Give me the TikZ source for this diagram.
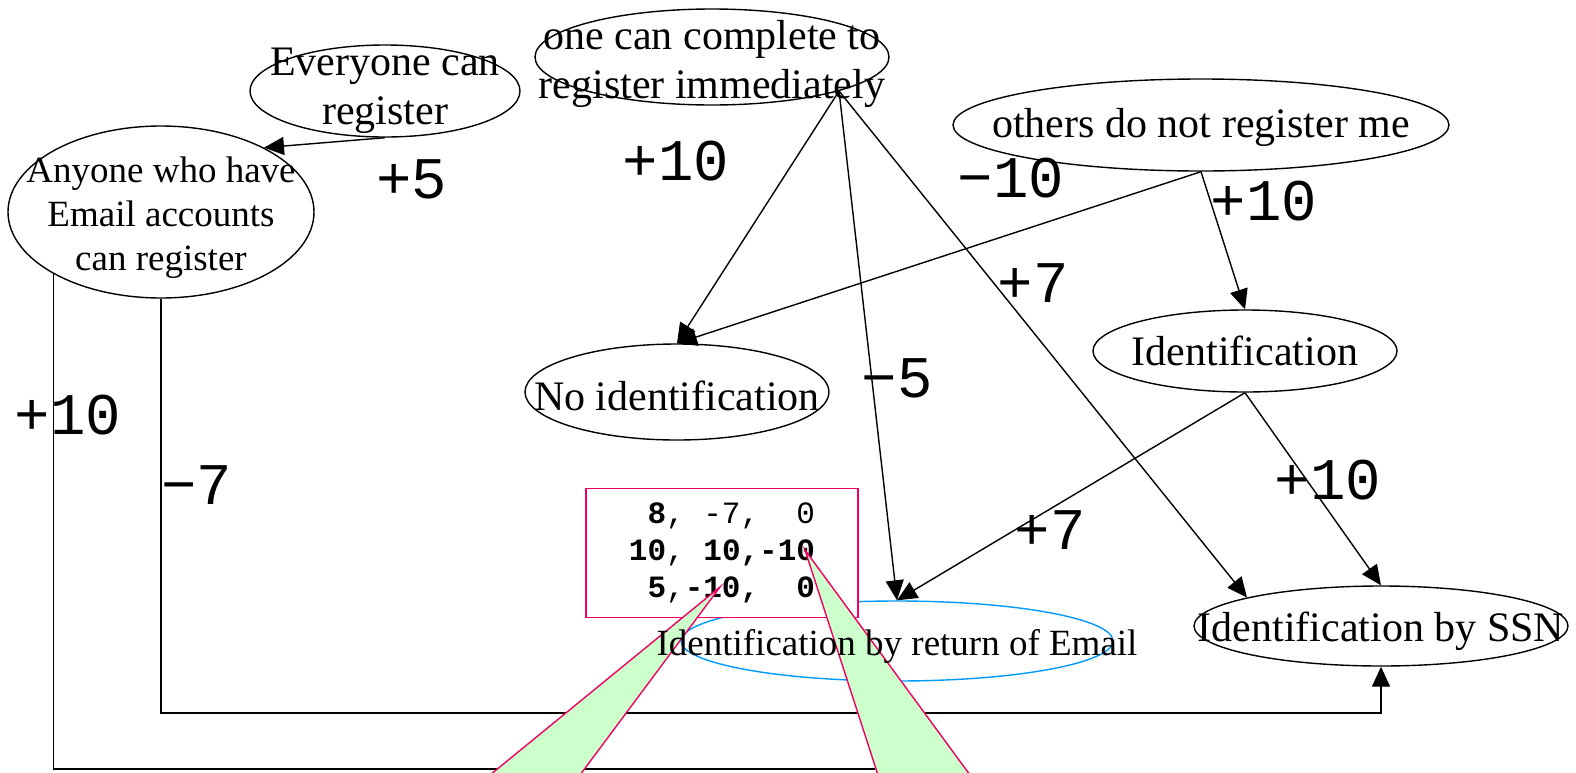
\documentclass[tikz,border=0pt]{standalone}
\usepackage{fontspec}
\setmainfont{Liberation Serif}
\newfontfamily\labelmono{Liberation Mono}
\usepackage{xcolor}
\usepackage{tikz}
\usetikzlibrary{shapes.geometric, arrows.meta}
\definecolor{notepink}{RGB}{240,0,100}
\definecolor{notegreen}{RGB}{204,255,204}
\definecolor{emailblue}{RGB}{0,153,255}

\begin{document}
\begin{tikzpicture}[
  x=0.5pt, y=-0.5pt,
  oval/.style 2 args={ellipse, draw, line width=0.7pt, inner sep=0pt,
                      minimum width=#1pt, minimum height=#2pt},
  txt/.style={font=\fontsize{21}{24.5}\selectfont, align=center},
  smalltxt/.style={font=\fontsize{18.5}{22}\selectfont, align=center},
  wt/.style={font=\labelmono\fontsize{29.5}{31}\selectfont},
  arr/.style={-{Triangle[length=10pt, width=9pt]}, line width=0.7pt},
  note/.style={draw=notepink, line width=0.7pt}
]
  \useasboundingbox (0,0) rectangle (1576,772);

  % Nodes
  \node[oval={135}{46}, label={[txt]center:Everyone can\\register}] (ev) at (385,91) {};
  \node[oval={177}{48}, label={[txt, yshift=-3.5pt]center:one can complete to\\register immediately}] (imm) at (712,57) {};
  \node[oval={248}{46}, label={[txt, yshift=-1pt]center:others do not register me}] (oth) at (1201,125) {};
  \node[oval={153}{86}, label={[smalltxt, yshift=-3pt]center:Anyone who have\\Email accounts\\can register}] (any) at (161,212) {};
  \node[oval={152}{41}, label={[txt]center:Identification}] (idn) at (1245,351) {};
  \node[oval={152}{48}, label={[txt, yshift=-2pt]center:No identification}] (noid) at (677,392) {};
  \node[oval={187}{40}, label={[txt, yshift=-2.5pt]center:Identification by SSN}] (ssn) at (1381,626) {};
  \node[oval={216}{40}, draw=emailblue] (eml) at (897,641) {};

  % Weights
  \node[wt] (w1) at (412,179) {+5};
  \node[wt] (w2) at (676,161) {+10};
  \node[wt] (w3) at (897,378) {−5};
  \node[wt] (w4) at (1033,283) {+7};
  \node[wt] (w5) at (1011,178) {−10};
  \node[wt] (w6) at (1264,201) {+10};
  \node[wt] (w7) at (1050,530) {+7};
  \node[wt] (w8) at (1328,480) {+10};
  \node[wt] (w9) at (197,485) {−7};
  \node[wt] (w10) at (68,415) {+10};

  % Arrows
  \coordinate (low) at (0,713);
  \coordinate (cut) at (875,769);
  \draw[arr] (ev.south) -- (any.32);
  \draw[arr] (imm.-15) -- (noid.north);
  \draw[arr] (imm.-15) -- (eml.north);
  \draw[arr] (imm.-15) -- (ssn.168);
  \draw[arr] (oth.south) -- (noid.north);
  \draw[arr] (oth.south) -- (idn.north);
  \draw[arr] (idn.south) -- (eml.north);
  \draw[arr] (idn.south) -- (ssn.north);
  \draw[arr] (any.south) -- (any.south |- low) -| (ssn.south);
  \draw[line width=0.7pt] (any.210) |- (cut);

  % Score box and callouts
  \node[note, fill=white, inner sep=0pt, minimum width=136pt, minimum height=64.5pt,
        align=right, font=\labelmono\fontsize{15.5}{18.5}\selectfont] (score) at (722,553)
       {\textbf{8},~-7,~~0\\\textbf{10},~\textbf{10,-10}\\\textbf{5},\textbf{-10,~~0}};
  \coordinate (tipA) at (720,587);
  \coordinate (tipB) at (805,550);
  \fill[notegreen] (490,775) -- (tipA) -- (580,775) -- cycle;
  \draw[note] (490,775) -- (tipA) -- (580,775);
  \fill[notegreen] (878,775) -- (tipB) -- (970,775) -- cycle;
  \draw[note] (878,775) -- (tipB) -- (970,775);

  \node[smalltxt, yshift=-2.5pt] (emltxt) at (eml) {Identification by return of Email};
\end{tikzpicture}
\end{document}
